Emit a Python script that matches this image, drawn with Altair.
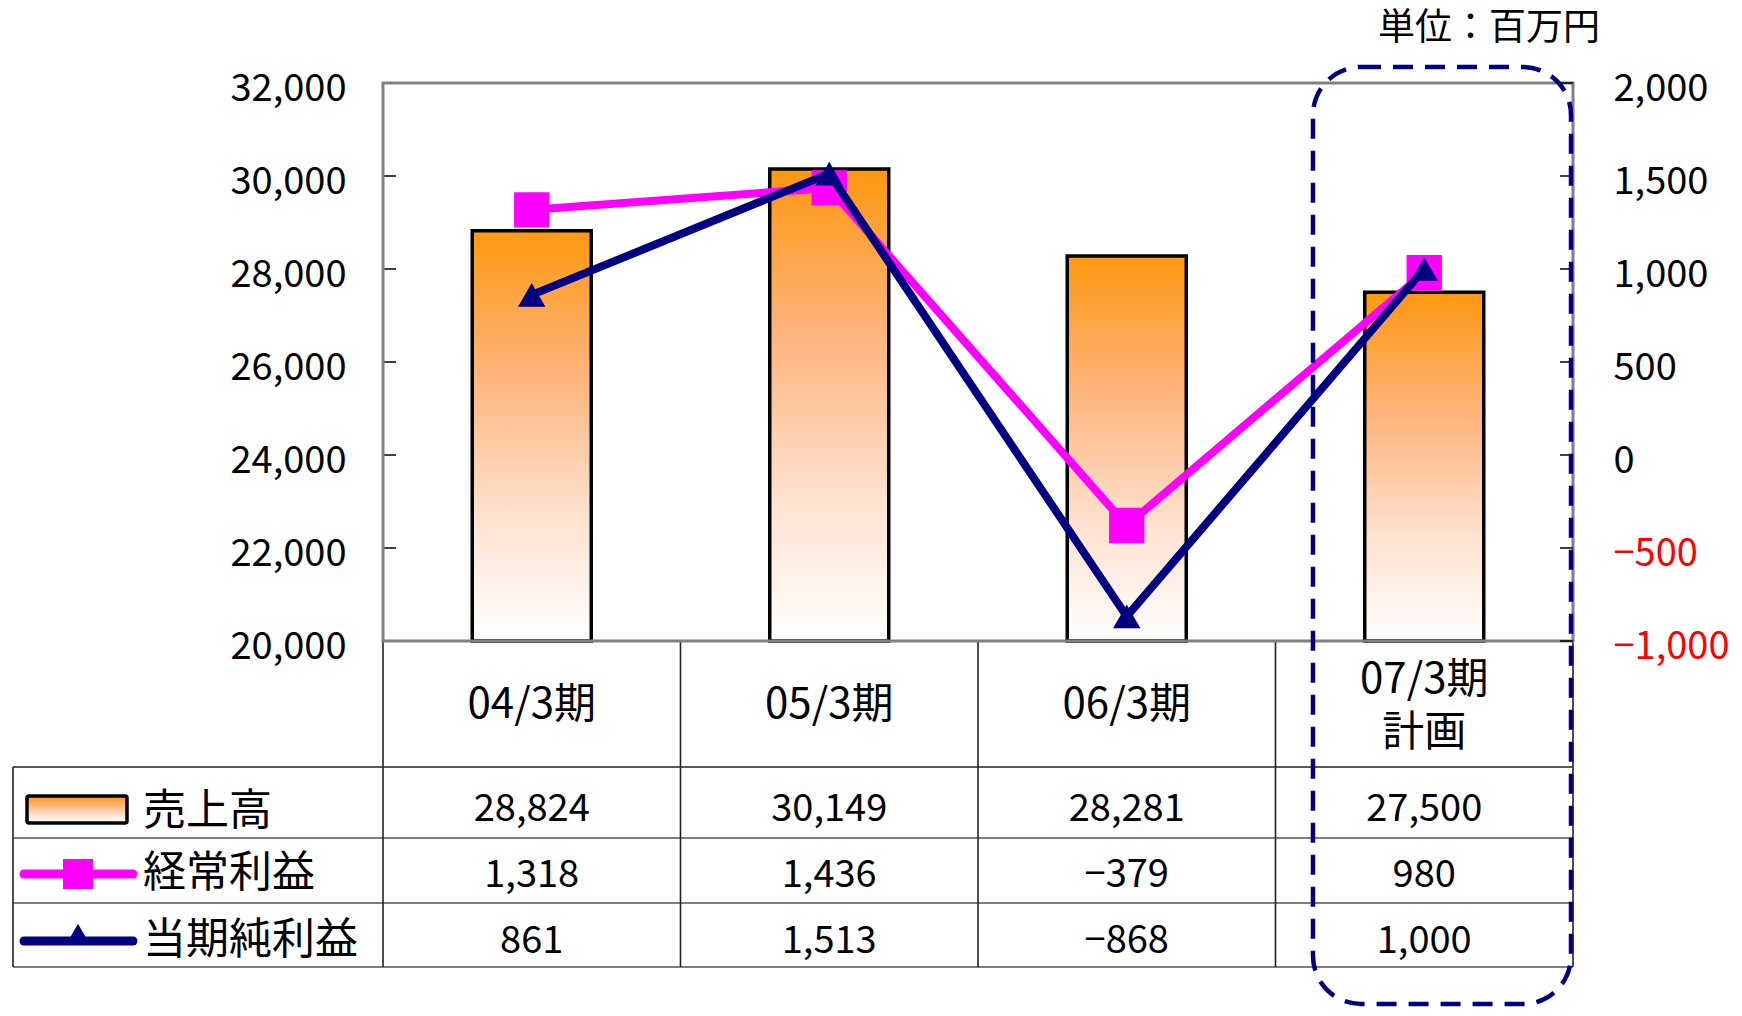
import altair as alt
import pandas as pd

# ---- data ----
categories = ["04/3期", "05/3期", "06/3期", "07/3期\n計画"]
sales = [28824, 30149, 28281, 27500]          # 売上高 (left axis)
ordinary = [1318, 1436, -379, 980]            # 経常利益 (right axis)
net = [861, 1513, -868, 1000]                 # 当期純利益 (right axis)
left_ticks = [20000, 22000, 24000, 26000, 28000, 30000, 32000]
right_ticks = [-1000, -500, 0, 500, 1000, 1500, 2000]
series_names = ["売上高", "経常利益", "当期純利益"]
unit_label = "単位：百万円"

df = pd.DataFrame({"cat": categories, "sales": sales, "ordinary": ordinary, "net": net})
one = pd.DataFrame({"a": [0]})

W, H = 1190, 558
FONT = "Noto Sans CJK JP"
MAGENTA = "#FF00FF"
NAVY = "#000080"
GRAY = "#808080"

x_scale = alt.Scale(domain=categories, paddingInner=0, paddingOuter=0)
x_enc = alt.X("cat:N", sort=categories, scale=x_scale, axis=None)
left_scale = alt.Scale(domain=[20000, 32000], zero=False, nice=False)
right_scale = alt.Scale(domain=[-1000, 2000], zero=False, nice=False)

grad = alt.Gradient(
    gradient="linear",
    stops=[
        alt.GradientStop(color="#FF9811", offset=0),
        alt.GradientStop(color="#FDB47C", offset=0.35),
        alt.GradientStop(color="#FEE2D0", offset=0.7),
        alt.GradientStop(color="#FFFFFF", offset=1),
    ],
    x1=0, x2=0, y1=0, y2=1,
)

base = alt.Chart(df)

# ---- left (sales) ----
left_axis = alt.Axis(orient="left", values=left_ticks, format=",d", labelFontSize=38,
                     labelFont=FONT, labelColor="black", labelPadding=37, labelOffset=6,
                     ticks=False, domain=False, grid=False, title=None)
bars = base.mark_bar(fill=grad, stroke="black", strokeWidth=3.5, size=119).encode(
    x=x_enc,
    y=alt.Y("sales:Q", scale=left_scale, axis=left_axis),
    y2=alt.datum(20000),
)
lt = alt.Chart(pd.DataFrame({"v": left_ticks})).mark_rule(color="black", strokeWidth=1.5).encode(
    y=alt.Y("v:Q", scale=left_scale, axis=None), x=alt.value(0), x2=alt.value(13))

# ---- right (profits) ----
right_axis = alt.Axis(orient="right", values=right_ticks, format=",d", labelFontSize=38,
                      labelFont=FONT, labelPadding=40, labelOffset=6, ticks=False, domain=False,
                      grid=False, title=None,
                      labelColor={"condition": {"test": "datum.value < 0", "value": "#FF0000"},
                                  "value": "black"})
rt = alt.Chart(pd.DataFrame({"v": right_ticks})).mark_rule(color="black", strokeWidth=1.5).encode(
    y=alt.Y("v:Q", scale=right_scale, axis=right_axis), x=alt.value(W - 13), x2=alt.value(W))
pink_line = base.mark_line(color=MAGENTA, strokeWidth=8).encode(
    x=x_enc, y=alt.Y("ordinary:Q", scale=right_scale, axis=None))
pink_pts = base.mark_point(shape="square", filled=True, size=1250, color=MAGENTA, opacity=1).encode(
    x=x_enc, y=alt.Y("ordinary:Q", scale=right_scale, axis=None))
navy_line = base.mark_line(color=NAVY, strokeWidth=8).encode(
    x=x_enc, y=alt.Y("net:Q", scale=right_scale, axis=None))
navy_pts = base.mark_point(shape="triangle-up", filled=True, size=750, color=NAVY, opacity=1).encode(
    x=x_enc, y=alt.Y("net:Q", scale=right_scale, axis=None))

# ---- plot frame ----
frame = alt.Chart(one).mark_rect(fillOpacity=0, stroke=GRAY, strokeWidth=3).encode(
    x=alt.value(0), x2=alt.value(W), y=alt.value(0), y2=alt.value(H))

# ---- table grid ----
TBL_L = -370
ROW_Y = [684, 755, 820, 884]
grid_layers = []
for i, yv in enumerate(ROW_Y):
    grid_layers.append(alt.Chart(one).mark_rule(color="#222222" if i == 0 else "#555555", strokeWidth=1.6).encode(
        x=alt.value(TBL_L), x2=alt.value(W), y=alt.value(yv)))
vlines = base.mark_rule(color="#222222", strokeWidth=1.6).encode(
    x=alt.X("cat:N", sort=categories, scale=x_scale, axis=None, bandPosition=0),
    y=alt.value(H), y2=alt.value(884))
grid_layers.append(vlines)
grid_layers.append(alt.Chart(one).mark_rule(color="#222222", strokeWidth=1.6).encode(
    x=alt.value(W), y=alt.value(H), y2=alt.value(884)))
grid_layers.append(alt.Chart(one).mark_rule(color="#222222", strokeWidth=1.6).encode(
    x=alt.value(TBL_L), y=alt.value(684), y2=alt.value(884)))

# ---- table text ----
hdr1 = base.transform_filter("indexof(datum.cat, '\\n') < 0").mark_text(
    font=FONT, fontSize=42, baseline="middle", align="center", color="black").encode(
    x=x_enc, y=alt.value(622), text="cat:N")
hdr2 = base.transform_filter("indexof(datum.cat, '\\n') >= 0").mark_text(
    font=FONT, fontSize=42, lineBreak="\n", lineHeight=53,
    baseline="middle", align="center", color="black").encode(
    x=x_enc, y=alt.value(597), text="cat:N")
row_sales = base.mark_text(font=FONT, fontSize=38, baseline="middle", color="black").encode(
    x=x_enc, y=alt.value(727), text=alt.Text("sales:Q", format=","))
row_ord = base.mark_text(font=FONT, fontSize=38, baseline="middle", color="black").encode(
    x=x_enc, y=alt.value(793), text=alt.Text("ordinary:Q", format=","))
row_net = base.mark_text(font=FONT, fontSize=38, baseline="middle", color="black").encode(
    x=x_enc, y=alt.value(859), text=alt.Text("net:Q", format=","))

# ---- legend column ----
lg_texts = []
for name, yv in zip(series_names, [729, 791, 858]):
    lg_texts.append(alt.Chart(one).mark_text(font=FONT, fontSize=43, align="left", baseline="middle",
                                             color="black").encode(
        x=alt.value(-240), y=alt.value(yv), text=alt.value(name)))
sw = alt.Chart(one).mark_rect(fill=grad, stroke="black", strokeWidth=3.5, cornerRadius=2).encode(
    x=alt.value(-356), x2=alt.value(-256), y=alt.value(713), y2=alt.value(740))
lg_pink = alt.Chart(one).mark_rule(color=MAGENTA, strokeWidth=9, strokeCap="round").encode(
    x=alt.value(-359), x2=alt.value(-250), y=alt.value(791))
lg_pink_pt = alt.Chart(one).mark_point(shape="square", filled=True, size=900, color=MAGENTA, opacity=1).encode(
    x=alt.value(-305), y=alt.value(791))
lg_navy = alt.Chart(one).mark_rule(color=NAVY, strokeWidth=9, strokeCap="round").encode(
    x=alt.value(-359), x2=alt.value(-250), y=alt.value(858))
lg_navy_pt = alt.Chart(one).mark_point(shape="triangle-up", filled=True, size=550, color=NAVY, opacity=1).encode(
    x=alt.value(-305), y=alt.value(851))

# ---- annotations ----
box = alt.Chart(one).mark_rect(fillOpacity=0, stroke=NAVY, strokeWidth=4.5, strokeDash=[20, 12],
                               cornerRadius=48).encode(
    x=alt.value(930), x2=alt.value(1188), y=alt.value(-16), y2=alt.value(921))
unit = alt.Chart(one).mark_text(font=FONT, fontSize=37, color="black", baseline="middle").encode(
    x=alt.value(1106), y=alt.value(-54), text=alt.value(unit_label))

chart = alt.layer(
    *grid_layers, bars, lt, frame, rt, pink_line, pink_pts, navy_line, navy_pts, box,
    hdr1, hdr2, row_sales, row_ord, row_net,
    sw, lg_pink, lg_pink_pt, lg_navy, lg_navy_pt, *lg_texts, unit,
).resolve_scale(y="independent").properties(
    width=W, height=H,
    autosize=alt.AutoSizeParams(type="none"),
    padding={"left": 375, "top": 75, "right": 161, "bottom": 367},
).configure_view(stroke=None).configure(background="white")

chart.save("out.html", embed_options={"renderer": "svg", "actions": False})
